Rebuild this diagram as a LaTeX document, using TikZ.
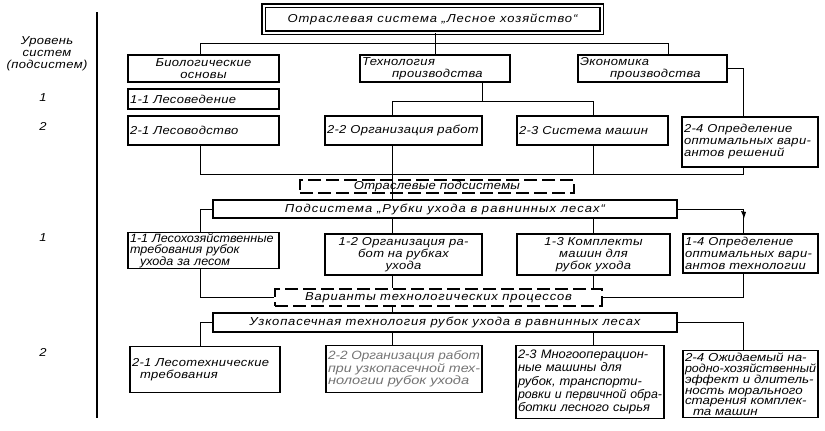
\documentclass[tikz,border=0pt]{standalone}
\usepackage{fontspec}
\usepackage{graphicx}
\newfontfamily\dfont{Liberation Sans}[LetterSpace=3, FakeStretch=1.13]
\newfontfamily\nfont{Liberation Sans}[FakeStretch=1.05]
\newfontfamily\wfont{Liberation Sans}[FakeStretch=1.15]
\newfontfamily\gfont{Liberation Sans}[FakeStretch=1.22]
\newsavebox\mylinebox
\newcommand\fl[1]{\sbox\mylinebox{#1}\ifdim\wd\mylinebox>\hsize\resizebox{\hsize}{\height}{\usebox\mylinebox}\else\usebox\mylinebox\fi}
\usetikzlibrary{calc}
\begin{document}
\begin{tikzpicture}[x=1pt,y=-1pt,
  txt/.style={font=\dfont\itshape\fontsize{11.5}{12}\selectfont},
  box/.style={txt, draw, line width=1.3pt, inner xsep=2pt, inner ysep=1pt, align=left},
  nbox/.style={box, font=\nfont\itshape\fontsize{12}{11.5}\selectfont},
  dbox/.style={txt, draw, line width=1.3pt, dash pattern=on 13pt off 5pt, inner sep=1pt},
  con/.style={line width=1pt},
  lvl/.style={txt, align=center}]
\useasboundingbox (0,0) rectangle (825,431);
% level column
\draw[line width=2pt] (97,12) -- (97,418);
\node[lvl] (lv) at (47,54) {Уровень\\систем\\(подсистем)};
\node[lvl] (n1a) at (43,98) {1};
\node[lvl] (n2a) at (43,126) {2};
\node[lvl] (n1b) at (43,238) {1};
\node[lvl] (n2b) at (43,352) {2};
% top
\node[box, double, double distance=2pt, line width=1.2pt, minimum width=338pt, minimum height=27pt, align=center] (top) at (432.5,19) {\addfontfeature{LetterSpace=8}Отраслевая система „Лесное хозяйство“};
% level 1 top part
\node[box, text width=147pt, minimum height=27pt, align=center] (bio) at (203.5,68.5) {Биологические\\основы};
\node[box, text width=146pt, minimum height=27pt] (tech) at (435,68.5) {Технология\\\hspace*{30pt}производства};
\node[box, text width=145pt, minimum height=27pt] (econ) at (652.5,68.5) {Экономика\\\hspace*{30pt}производства};
\node[box, text width=147pt, minimum height=20pt] (l11) at (203.5,99) {1-1 Лесоведение};
\node[box, text width=147pt, minimum height=29pt] (l21) at (203.5,130.5) {2-1 Лесоводство};
\node[box, text width=153pt, minimum height=29pt] (l22) at (403.5,130.5) {\fl{2-2 Организация работ}};
\node[box, text width=147pt, minimum height=29pt] (l23) at (592.5,130.5) {2-3 Система машин};
\node[box, text width=132pt, minimum height=50pt] (l24) at (750,142) {\fl{2-4 Определение}\\\fl{оптимальных вари-}\\\fl{антов решений}};
% subsystems
\node[dbox, minimum width=274pt, minimum height=13pt] (ds1) at (437,186.5) {\addfontfeature{LetterSpace=2}Отраслевые подсистемы};
\node[box, minimum width=464pt, minimum height=18pt, align=center] (pod) at (445,209) {\addfontfeature{LetterSpace=9}Подсистема „Рубки ухода в равнинных лесах“};
\node[nbox, text width=147pt, minimum height=31pt] (m11) at (203.5,250.5) {\fl{1-1 Лесохозяйственные}\\\fl{требования рубок}\\\hspace*{10pt}ухода за лесом};
\node[box, text width=153pt, minimum height=41pt, align=center] (m12) at (403.5,254.5) {\fl{1-2 Организация ра-}\\\fl{бот на рубках}\\ухода};
\node[box, text width=149pt, minimum height=41pt, align=center] (m13) at (593.5,254.5) {1-3 Комплекты\\машин для\\рубок ухода};
\node[box, text width=131pt, minimum height=39pt] (m14) at (750.5,253.5) {\fl{1-4 Определение}\\\fl{оптимальных вари-}\\\fl{антов технологии}};
\node[dbox, minimum width=327pt, minimum height=17pt] (ds2) at (438.5,297.5) {\addfontfeature{LetterSpace=7}Варианты технологических процессов};
\node[box, minimum width=464pt, minimum height=19pt, align=center] (uzk) at (445,322.5) {\addfontfeature{LetterSpace=7}Узкопасечная технология рубок ухода в равнинных лесах};
\node[box, text width=146pt, minimum height=46pt, anchor=north] (b21) at (205,346) {2-1 Лесотехнические\\\hspace*{8pt}требования};
\node[box, text width=152pt, minimum height=47pt, anchor=north, text=black!55, font=\gfont\itshape\fontsize{12}{12.5}\selectfont] (b22) at (404,345) {\fl{2-2 Организация работ}\\\fl{при узкопасечной тех-}\\\fl{нологии рубок ухода}};
\node[box, text width=144pt, minimum height=73pt, anchor=north, font=\nfont\itshape\fontsize{12.3}{13.4}\selectfont] (b23) at (590,345) {\fl{2-3 Многооперацион-}\\\fl{ные машины для}\\\fl{рубок, транспорти-}\\\fl{ровки и первичной обра-}\\\fl{ботки лесного сырья}};
\node[box, text width=131pt, minimum height=67pt, anchor=north, inner ysep=2pt, font=\wfont\itshape\fontsize{11.6}{10.4}\selectfont] (b24) at (750.5,350) {\fl{2-4 Ожидаемый на-}\\\fl{родно-хозяйственный}\\\fl{эффект и длитель-}\\\fl{ность морального}\\\fl{старения комплек-}\\\hspace*{8pt}та машин};
% helper coordinates
\coordinate (yA) at (0,43);
\coordinate (yB) at (0,101);
\coordinate (yC) at (0,174);
\coordinate (xL) at (200,0);
\coordinate (xR) at (743,0);
\coordinate (xM) at (392,0);
\coordinate (xN) at (593,0);
\coordinate (xE) at (668,0);
% connectors
\draw[con] (tech.north |- top.south) -- (tech.north);
\draw[con] (xL |- bio.north) -- (xL |- yA) -- (xE |- yA) -- (xE |- econ.north);
\draw[con] (econ.east) -- (xR |- econ.east) -- (xR |- l24.north);
\draw[con] (l22.east |- tech.south) -- (l22.east |- yB);
\draw[con] (xM |- l22.north) -- (xM |- yB) -- (xN |- yB) -- (xN |- l23.north);
\draw[con] (xL |- l21.south) -- (xL |- yC) -- (xR |- yC) -- (xR |- l24.south);
\draw[con] (xN |- l23.south) -- (xN |- yC);
\draw[con] (xM |- l22.south) -- (xM |- pod.north);
\draw[con] (pod.west) -| (xL |- m11.north);
\draw[con] (pod.east) -| (xR |- m14.north);
\fill ($(xR |- pod.east)+(-2,2)$) -- ++(5,1) -- ++(-2,6) -- cycle;
\draw[con] (xM |- pod.south) -- (xM |- m12.north);
\draw[con] (xN |- pod.south) -- (xN |- m13.north);
\draw[con] (xL |- m11.south) |- (ds2.west);
\draw[con] (xR |- m14.south) |- (ds2.east);
\draw[con] (xM |- m12.south) -- (xM |- ds2.north);
\draw[con] (xN |- m13.south) -- (xN |- ds2.north);
\draw[con] (xM |- ds2.south) -- (xM |- uzk.north);
\draw[con] (uzk.west) -| (xL |- b21.north);
\draw[con] (uzk.east) -| (xR |- b24.north);
\draw[con] (xM |- uzk.south) -- (xM |- b22.north);
\draw[con] (xN |- uzk.south) -- (xN |- b23.north);
\end{tikzpicture}
\end{document}
